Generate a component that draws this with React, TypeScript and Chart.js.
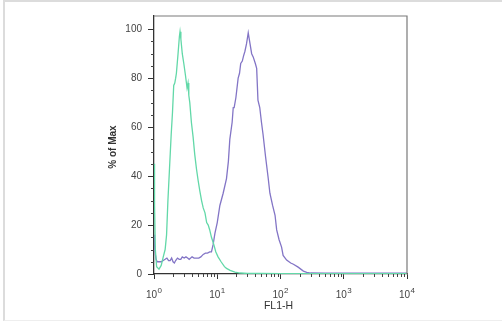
import React, { useEffect, useRef } from "react";
import { Chart, registerables } from "chart.js";

Chart.register(...registerables);

const greenX = [1.0, 1.02, 1.05, 1.1, 1.2, 1.3, 1.4, 1.5, 1.58, 1.66, 1.75, 1.87, 1.96, 2.05, 2.13, 2.2, 2.26, 2.4, 2.52, 2.58, 2.66, 2.8, 2.96, 3.15, 3.33, 3.45, 3.55, 3.68, 3.9, 4.15, 4.4, 4.69, 5.0, 5.3, 5.65, 6.0, 6.4, 6.8, 7.2, 7.6, 8.1, 8.6, 9.5, 10.3, 11.5, 13.0, 14.0, 16.0, 19.0, 23.0, 30.0, 50.0, 100, 1000, 10000];
const greenY = [45, 28, 10, 3, 2, 3.5, 7, 10, 16, 30, 42, 57, 66, 77, 78, 80, 82, 90, 97, 99, 96, 90, 86, 81, 76, 78, 73, 70, 62, 56, 49, 43, 38, 34, 30, 27, 25, 21, 20, 18, 15, 13, 9, 7, 5, 3, 2.3, 1.5, 0.8, 0.4, 0.2, 0.2, 0.1, 0.1, 0.1];

const purpleX = [1.0, 1.02, 1.05, 1.08, 1.12, 1.2, 1.3, 1.4, 1.5, 1.6, 1.7, 1.8, 1.9, 2.0, 2.1, 2.2, 2.35, 2.5, 2.65, 2.8, 3.0, 3.2, 3.4, 3.6, 3.8, 4.0, 4.3, 4.7, 5.1, 5.5, 6.0, 6.5, 7.0, 7.6, 8.1, 8.6, 9.2, 10.0, 11.0, 12.4, 14.0, 15.0, 15.8, 17.2, 17.9, 18.5, 19.7, 21.4, 22.5, 23.5, 24.9, 26.0, 27.4, 29.0, 30.9, 33.0, 35.0, 37.0, 40.0, 42.0, 44.0, 47.0, 50.0, 53.0, 58.0, 64.0, 68.0, 75.0, 82.0, 87.0, 95.0, 104, 110, 125, 145, 160, 190, 230, 260, 300, 500, 1000, 3000, 10000];
const purpleY = [16, 12, 8, 6, 5, 5, 5, 5.5, 6, 6.5, 5.5, 5.5, 6.5, 5, 4.5, 5.5, 6.5, 6, 6, 7, 6.5, 7, 6.5, 6, 6.5, 7, 6.5, 6.5, 6.5, 7, 8, 8.5, 8.5, 9, 9, 12, 16.7, 21, 28, 33, 39, 46, 55, 62, 68, 68, 72, 80, 82, 86, 87, 89, 91, 94, 98.5, 94, 90, 88.7, 86, 84, 71, 68, 62, 57, 48, 39, 33, 28, 24, 18, 14, 11, 7.6, 5.7, 4.5, 4, 2.8, 1.2, 0.7, 0.4, 0.3, 0.3, 0.3, 0.3];

const xMajorTicks = [1, 10, 100, 1000, 10000];
const xTickBase = "10";
const xTickExponents = ["0", "1", "2", "3", "4"];
const yMajorTicks = [0, 20, 40, 60, 80, 100];
const xTitle = "FL1-H";
const yTitle = "% of Max";

const FONT = "'Liberation Sans', Arial, 'DejaVu Sans', sans-serif";

const decorPlugin = {
  id: "decor",
  afterDraw(chart: any) {
    const { ctx, chartArea } = chart;
    const xs = chart.scales.x;
    const ys = chart.scales.y;
    ctx.save();
    // frame top/right
    ctx.strokeStyle = "#7a7a7a";
    ctx.lineWidth = 1.2;
    ctx.beginPath();
    ctx.moveTo(chartArea.left, chartArea.top);
    ctx.lineTo(chartArea.right, chartArea.top);
    ctx.lineTo(chartArea.right, chartArea.bottom);
    ctx.stroke();
    // minor ticks
    ctx.strokeStyle = "#444";
    ctx.lineWidth = 1;
    ctx.beginPath();
    for (let v = 5; v < 105; v += 5) {
      if (v % 20 === 0) continue;
      const y = Math.round(ys.getPixelForValue(v)) + 0.5;
      ctx.moveTo(chartArea.left - 3, y);
      ctx.lineTo(chartArea.left, y);
    }
    for (let d = 0; d < 4; d++) {
      for (let k = 2; k <= 9; k++) {
        const x = Math.round(xs.getPixelForValue(k * Math.pow(10, d))) + 0.5;
        ctx.moveTo(x, chartArea.bottom);
        ctx.lineTo(x, chartArea.bottom + 3);
      }
    }
    ctx.stroke();
    // x tick labels with superscript exponents
    ctx.fillStyle = "#444";
    ctx.textBaseline = "alphabetic";
    ctx.textAlign = "left";
    xMajorTicks.forEach((v, i) => {
      const px = xs.getPixelForValue(v);
      ctx.font = `10px ${FONT}`;
      const wb = ctx.measureText(xTickBase).width;
      ctx.font = `8px ${FONT}`;
      const we = ctx.measureText(xTickExponents[i]).width;
      const start = px - (wb + we + 0.5) / 2;
      ctx.font = `10px ${FONT}`;
      ctx.fillText(xTickBase, start, 298);
      ctx.font = `8px ${FONT}`;
      ctx.fillText(xTickExponents[i], start + wb + 0.5, 293);
    });
    // titles
    ctx.fillStyle = "#333";
    ctx.font = `10.5px ${FONT}`;
    ctx.textAlign = "center";
    ctx.textBaseline = "middle";
    ctx.fillText(xTitle, (chartArea.left + chartArea.right) / 2 - 2, 306);
    ctx.translate(113.5, 147);
    ctx.rotate(-Math.PI / 2);
    ctx.font = `bold 10px ${FONT}`;
    ctx.fillText(yTitle, 0, 0);
    ctx.restore();
  },
};

export default function App() {
  const ref = useRef<HTMLCanvasElement | null>(null);
  useEffect(() => {
    if (!ref.current) return;
    const chart = new Chart(ref.current, {
      type: "line",
      data: {
        datasets: [
          {
            label: "control",
            data: greenX.map((x, i) => ({ x, y: greenY[i] })),
            borderColor: "#62d8a8",
            borderWidth: 1.3,
            pointRadius: 0,
            tension: 0,
            fill: false,
          },
          {
            label: "sample",
            data: purpleX.map((x, i) => ({ x, y: purpleY[i] })),
            borderColor: "#8375c6",
            borderWidth: 1.3,
            pointRadius: 0,
            tension: 0,
            fill: false,
          },
        ],
      },
      options: {
        responsive: false,
        animation: false,
        devicePixelRatio: 1,
        layout: { padding: { left: 0, right: 95, top: 16, bottom: 0 } },
        plugins: { legend: { display: false }, tooltip: { enabled: false } },
        scales: {
          x: {
            type: "logarithmic",
            min: 1,
            max: 10000,
            afterBuildTicks: (s: any) => {
              s.ticks = xMajorTicks.map((v) => ({ value: v }));
            },
            afterFit: (s: any) => {
              s.height = 47;
            },
            ticks: { display: false, autoSkip: false, maxRotation: 0 },
            grid: {
              drawOnChartArea: false,
              drawTicks: true,
              tickLength: 5,
              tickColor: "#333",
            },
            border: { color: "#333", width: 1.3 },
          },
          y: {
            type: "linear",
            min: 0,
            max: 105.4,
            afterBuildTicks: (s: any) => {
              s.ticks = yMajorTicks.map((v) => ({ value: v }));
            },
            afterFit: (s: any) => {
              s.width = 154;
            },
            ticks: {
              padding: 6,
              color: "#444",
              font: { size: 10, family: FONT },
            },
            grid: {
              drawOnChartArea: false,
              drawTicks: true,
              tickLength: 6,
              tickColor: "#333",
            },
            border: { color: "#333", width: 1.3 },
          },
        },
      },
      plugins: [decorPlugin],
    });
    return () => chart.destroy();
  }, []);

  return (
    <div
      style={{
        position: "fixed",
        left: 0,
        top: 0,
        width: 502,
        height: 321,
        background: "#fff",
        boxSizing: "border-box",
        borderLeft: "2px solid #dcdcdc",
        borderTop: "2px solid #dcdcdc",
        borderRight: "1px solid #eeeeee",
        borderBottom: "1px solid #eeeeee",
        marginLeft: 3,
        overflow: "hidden",
      }}
    >
      <canvas
        ref={ref}
        width={502}
        height={321}
        style={{ position: "absolute", left: -5, top: -2, width: 502, height: 321 }}
      />
    </div>
  );
}
